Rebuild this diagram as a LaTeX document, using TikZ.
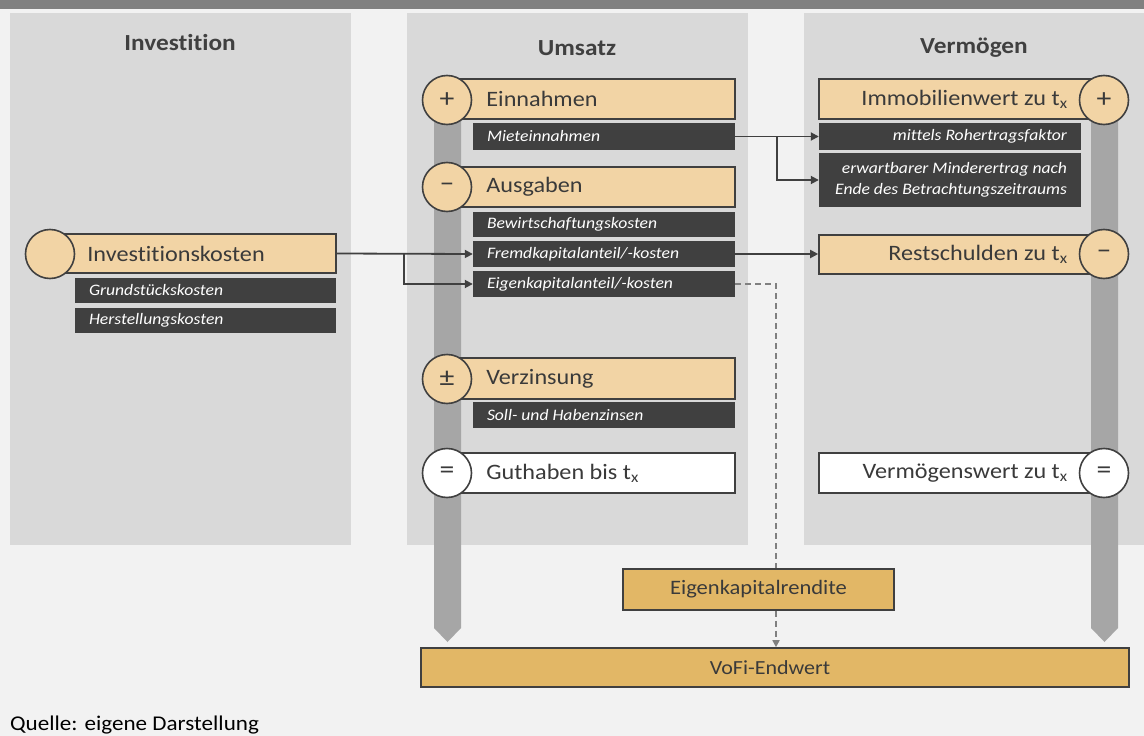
\documentclass[tikz,border=0pt]{standalone}
\usepackage{fontspec}
\setmainfont{Carlito}[FakeStretch=1.1, Ligatures=NoCommon]
\usetikzlibrary{arrows.meta,fit}
\definecolor{bgc}{HTML}{F2F2F2}
\definecolor{panelc}{HTML}{D9D9D9}
\definecolor{barc}{HTML}{A6A6A6}
\definecolor{topc}{HTML}{808080}
\definecolor{darkc}{HTML}{404040}
\definecolor{tanc}{HTML}{F2D4A5}
\definecolor{orc}{HTML}{E2B766}
\definecolor{txtc}{HTML}{3A3A3A}
\begin{document}
\begin{tikzpicture}[x=1pt,y=-1pt,
  panel/.style={fill=panelc},
  tanbox/.style={inner sep=0pt, draw=darkc, line width=1.6pt, fill=tanc},
  whitebox/.style={inner sep=0pt, draw=darkc, line width=1.6pt, fill=white},
  orbox/.style={inner sep=0pt, draw=darkc, line width=1.6pt, fill=orc},
  darkbox/.style={inner sep=0pt, fill=darkc},
  bigtxt/.style={font=\fontsize{22}{26}\selectfont, text=txtc, inner sep=0pt},
  smalltxt/.style={font=\fontsize{16}{19}\selectfont\itshape, text=white, inner sep=0pt},
  title/.style={font=\fontsize{23}{26}\selectfont\bfseries, text=darkc},
  circ/.style={circle, draw=darkc, line width=1.6pt, minimum size=49pt, inner sep=0pt, font=\fontsize{27}{30}\selectfont, text=txtc},
  conn/.style={draw=darkc, line width=1.8pt},
  arr/.style={conn, -{Triangle[length=8pt,width=8pt]}},
  dashln/.style={draw=topc, line width=1.6pt, dash pattern=on 6pt off 4pt}
]
\useasboundingbox (0,0) rectangle (1144,736);
\fill[bgc] (0,0) rectangle (1144,736);
\fill[topc] (0,0) rectangle (1144,9);

% panels
\fill[panel] (10,13) rectangle (351,545);
\fill[panel] (407,13) rectangle (748,545);
\fill[panel] (804,13) rectangle (1144,545);
\node[title] (t1) at (180,43) {Investition};
\node[title] (t2) at (577,48) {Umsatz};
\node[title] (t3) at (974,48) {Vermögen};

% vertical bars
\fill[barc] (434,100) -- (461,100) -- (461,628) -- (447.5,642) -- (434,628) -- cycle;
\fill[barc] (1091,100) -- (1118,100) -- (1118,628) -- (1104.5,642) -- (1091,628) -- cycle;

% Investition
\node[tanbox, fit={(50,234) (336,273)}] (ik) {};
\node[bigtxt, anchor=west] (ikt) at ([xshift=38pt]ik.west) {Investitionskosten};
\node[darkbox, fit={(75,278) (336,303)}] (gk) {};
\node[smalltxt, anchor=west] (gkt) at ([xshift=14pt]gk.west) {Grundstückskosten};
\node[darkbox, fit={(75,308) (336,333)}] (hk) {};
\node[smalltxt, anchor=west] (hkt) at ([xshift=14pt]hk.west) {Herstellungskosten};
\node[circ, fill=tanc] (c0) at (50,254) {};

% Umsatz
\node[tanbox, fit={(447,79) (735,119)}] (ein) {};
\node[bigtxt, anchor=west] (eint) at ([xshift=40pt]ein.west) {Einnahmen};
\node[darkbox, fit={(473,123) (735,150)}] (mie) {};
\node[smalltxt, anchor=west] (miet) at ([xshift=14pt]mie.west) {Mieteinnahmen};
\node[tanbox, fit={(447,167) (735,207)}] (aus) {};
\node[bigtxt, anchor=west] (aust) at ([xshift=40pt]aus.west) {Ausgaben};
\node[darkbox, fit={(473,212) (735,237)}] (bew) {};
\node[smalltxt, anchor=west] (bewt) at ([xshift=14pt]bew.west) {Bewirtschaftungskosten};
\node[darkbox, fit={(473,241) (735,267)}] (fk) {};
\node[smalltxt, anchor=west] (fkt) at ([xshift=14pt]fk.west) {Fremdkapitalanteil/-kosten};
\node[darkbox, fit={(473,271) (735,297)}] (ek) {};
\node[smalltxt, anchor=west] (ekt) at ([xshift=14pt]ek.west) {Eigenkapitalanteil/-kosten};
\node[tanbox, fit={(447,358) (735,399)}] (verz) {};
\node[bigtxt, anchor=west] (verzt) at ([xshift=40pt]verz.west) {Verzinsung};
\node[darkbox, fit={(473,402) (735,428)}] (soll) {};
\node[smalltxt, anchor=west] (sollt) at ([xshift=14pt]soll.west) {Soll- und Habenzinsen};
\node[whitebox, fit={(447,453) (735,493)}] (gut) {};
\node[bigtxt, anchor=west] (gutt) at ([xshift=40pt]gut.west) {Guthaben bis t\textsubscript{x}};
\node[circ, fill=tanc] (c1) at (447,100) {+};
\node[circ, fill=tanc] (c2) at (447,187) {–};
\node[circ, fill=tanc] (c3) at (447,379) {±};
\node[circ, fill=white] (c4) at (447,473) {=};

% Vermoegen
\node[tanbox, fit={(819,79) (1104,119)}] (immo) {};
\node[bigtxt, anchor=east] (immot) at ([xshift=-37pt]immo.east) {Immobilienwert zu t\textsubscript{x}};
\node[darkbox, fit={(819,123) (1081,150)}] (mit) {};
\node[smalltxt, anchor=east] (mitt) at ([xshift=-14pt]mit.east) {mittels Rohertragsfaktor};
\node[darkbox, fit={(819,153) (1081,207)}] (erw) {};
\node[smalltxt, anchor=east, align=right, font=\fontsize{16}{21}\selectfont\itshape] (erwt) at ([xshift=-14pt]erw.east) {erwartbarer Minderertrag nach\\Ende des Betrachtungszeitraums};
\node[tanbox, fit={(819,235) (1104,274)}] (rest) {};
\node[bigtxt, anchor=east] (restt) at ([xshift=-37pt]rest.east) {Restschulden zu t\textsubscript{x}};
\node[whitebox, fit={(819,453) (1104,493)}] (verm) {};
\node[bigtxt, anchor=east] (vermt) at ([xshift=-37pt]verm.east) {Vermögenswert zu t\textsubscript{x}};
\node[circ, fill=tanc] (c5) at (1104,100) {+};
\node[circ, fill=tanc] (c6) at (1104,254) {–};
\node[circ, fill=white] (c7) at (1104,473) {=};

% bottom
\node[orbox, fit={(623,569) (894,610)}] (ekr) {};
\node[bigtxt, font=\fontsize{20.5}{24}\selectfont] (ekrt) at (ekr.center) {Eigenkapitalrendite};
\node[orbox, fit={(421,648) (1129,687)}] (vofi) {};
\node[bigtxt, font=\fontsize{20}{24}\selectfont] (vofit) at ([xshift=-5pt]vofi.center) {VoFi-Endwert};

% connectors
\coordinate (b1) at (404,253.5);
\coordinate (b2) at (777,136.5);
\coordinate (d1) at (776,284);
\draw[arr] (ik.east) -- (fk.west);
\draw[arr] (b1) |- (ek.west);
\draw[arr] (mie.east) -- (mit.west);
\draw[arr] (b2) |- (erw.west);
\draw[arr] (fk.east) -- (rest.west |- fk.east);
\draw[dashln] (ek.east) -- (d1) -- (d1 |- ekr.north);
\draw[dashln, -{Triangle[length=7pt,width=7pt]}] (d1 |- ekr.south) -- (d1 |- vofi.north);

\node[anchor=base west, font=\fontsize{21}{24}\selectfont, text=black, inner sep=0pt] (q) at (10,730) {Quelle: eigene Darstellung};
\end{tikzpicture}
\end{document}
